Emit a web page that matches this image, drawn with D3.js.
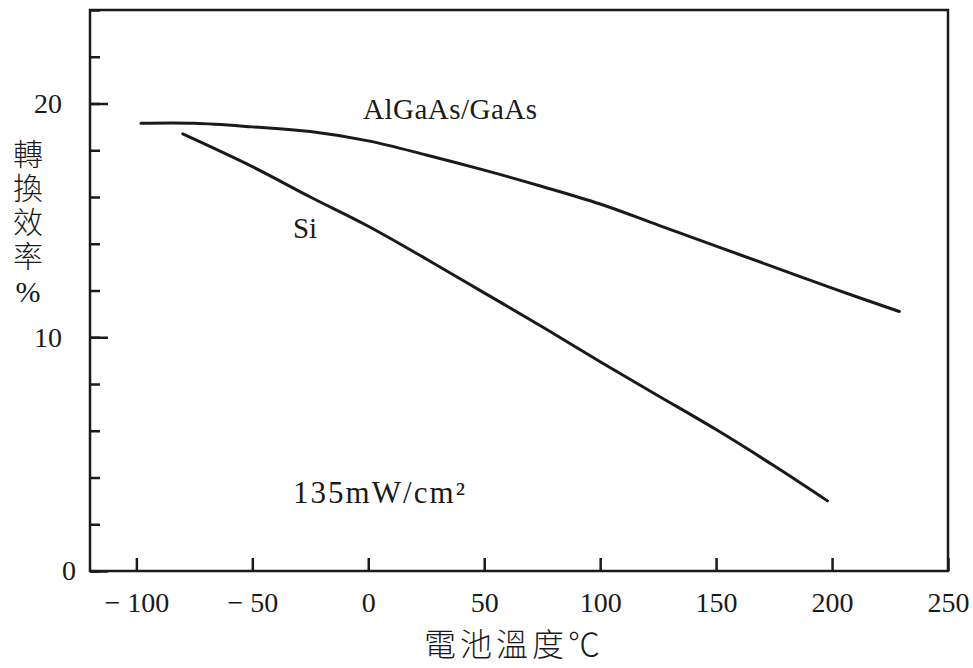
<!DOCTYPE html>
<html>
<head>
<meta charset="utf-8">
<script src="https://cdn.jsdelivr.net/npm/d3@7/dist/d3.min.js"></script>
<style>
  body { margin: 0; background: #fff; }
  text { fill: #1a1a1a; }
</style>
</head>
<body>
<div id="chart"></div>
<script>
// cell temperature (deg C) vs conversion efficiency (%)
var algaasTemp = [-98, -75, -50, -25, 0, 25, 50, 75, 100, 125, 150, 175, 200, 229];
var algaasEff  = [19.15, 19.15, 19.0, 18.8, 18.4, 17.8, 17.15, 16.45, 15.7, 14.8, 13.9, 13.0, 12.1, 11.1];
var siTemp = [-80, -50, -25, 0, 25, 50, 75, 100, 125, 150, 175, 198];
var siEff  = [18.7, 17.3, 16.0, 14.75, 13.35, 11.9, 10.45, 8.95, 7.5, 6.05, 4.5, 3.0];
var xTicks = [-100, -50, 0, 50, 100, 150, 200, 250];
var yMinorTicks = [0, 2, 4, 6, 8, 10, 12, 14, 16, 18, 20, 22, 24];
var yMajorTicks = [0, 10, 20];

(function () {
    'use strict';
    var width = 973,
        height = 668,
        left = 90,
        right = 948,
        top = 10,
        bottom = 571,
        serif = "'Liberation Serif', 'Times New Roman', serif",
        cjk = "'Noto Sans CJK TC', 'Noto Sans CJK SC', sans-serif",
        ink = "#1a1a1a";

    var svg = d3.select("#chart").append("svg")
        .attr("width", width)
        .attr("height", height)
        .style("display", "block");

    var x = d3.scaleLinear().domain([-120, 250]).range([left, right]),
        y = d3.scaleLinear().domain([0, 24]).range([bottom, top]);

    // minor y ticks, pointing inward
    svg.append("g")
        .attr("transform", "translate(" + left + ",0)")
        .call(d3.axisLeft(y).tickValues(yMinorTicks).tickSize(-10).tickFormat(""))
        .call(function (g) {
            g.select(".domain").remove();
            g.selectAll("line").attr("stroke", ink).attr("stroke-width", 2.5);
        });

    // major y ticks with labels
    svg.append("g")
        .attr("transform", "translate(" + left + ",0)")
        .call(d3.axisLeft(y).tickValues(yMajorTicks).tickSize(-18).tickPadding(28))
        .call(function (g) {
            g.select(".domain").remove();
            g.selectAll("line").attr("stroke", ink).attr("stroke-width", 2.5);
            g.selectAll("text")
                .style("font-family", serif)
                .style("font-size", "28px")
                .attr("fill", ink)
                .attr("dx", function (d) { return d === 0 ? 14 : 0; });
        });

    // x ticks, inward
    svg.append("g")
        .attr("transform", "translate(0," + bottom + ")")
        .call(d3.axisBottom(x).tickValues(xTicks).tickSize(-13).tickPadding(21)
            .tickFormat(function (d) { return d < 0 ? "\u2212 " + Math.abs(d) : d; }))
        .call(function (g) {
            g.select(".domain").remove();
            g.selectAll("line").attr("stroke", ink).attr("stroke-width", 2.5);
            g.selectAll("text")
                .style("font-family", serif)
                .style("font-size", "28px")
                .attr("fill", ink);
        });

    // frame
    svg.append("rect")
        .attr("x", left)
        .attr("y", top)
        .attr("width", right - left)
        .attr("height", bottom - top)
        .attr("fill", "none")
        .attr("stroke", ink)
        .attr("stroke-width", 2.5);

    var line = d3.line()
        .x(function (d) { return x(d[0]); })
        .y(function (d) { return y(d[1]); })
        .curve(d3.curveCatmullRom.alpha(0.5));

    var series = [
        d3.zip(algaasTemp, algaasEff),
        d3.zip(siTemp, siEff)
    ];

    svg.selectAll("path.curve")
        .data(series)
        .enter()
        .append("path")
        .attr("class", "curve")
        .attr("d", line)
        .attr("fill", "none")
        .attr("stroke", ink)
        .attr("stroke-width", 3)
        .attr("stroke-linecap", "round");

    // in-plot labels
    var notes = [
        {t: "AlGaAs/GaAs", x: 363, y: 119, w: 174, s: 29},
        {t: "Si", x: 293, y: 238, w: 24, s: 29},
        {t: "135mW/cm\u00b2", x: 293, y: 503, w: 172, s: 31}
    ];
    svg.selectAll("text.note")
        .data(notes)
        .enter()
        .append("text")
        .attr("class", "note")
        .attr("x", function (d) { return d.x; })
        .attr("y", function (d) { return d.y; })
        .attr("textLength", function (d) { return d.w; })
        .attr("lengthAdjust", "spacing")
        .style("font-family", serif)
        .style("font-size", function (d) { return d.s + "px"; })
        .text(function (d) { return d.t; });

    // axis titles
    svg.append("text")
        .attr("x", 514)
        .attr("y", 656)
        .attr("text-anchor", "middle")
        .style("font-family", cjk)
        .style("font-size", "32px")
        .style("font-weight", 300)
        .style("letter-spacing", "4px")
        .text("電池溫度℃");

    var ylab = svg.append("text")
        .attr("x", 28)
        .attr("y", 139)
        .style("writing-mode", "vertical-rl")
        .style("text-orientation", "upright")
        .style("font-family", cjk)
        .style("font-size", "30px")
        .style("font-weight", 300)
        .style("letter-spacing", "4px");
    ylab.append("tspan").text("轉換效率");
    ylab.append("tspan").style("font-family", serif).text("%");
}());
</script>
</body>
</html>
